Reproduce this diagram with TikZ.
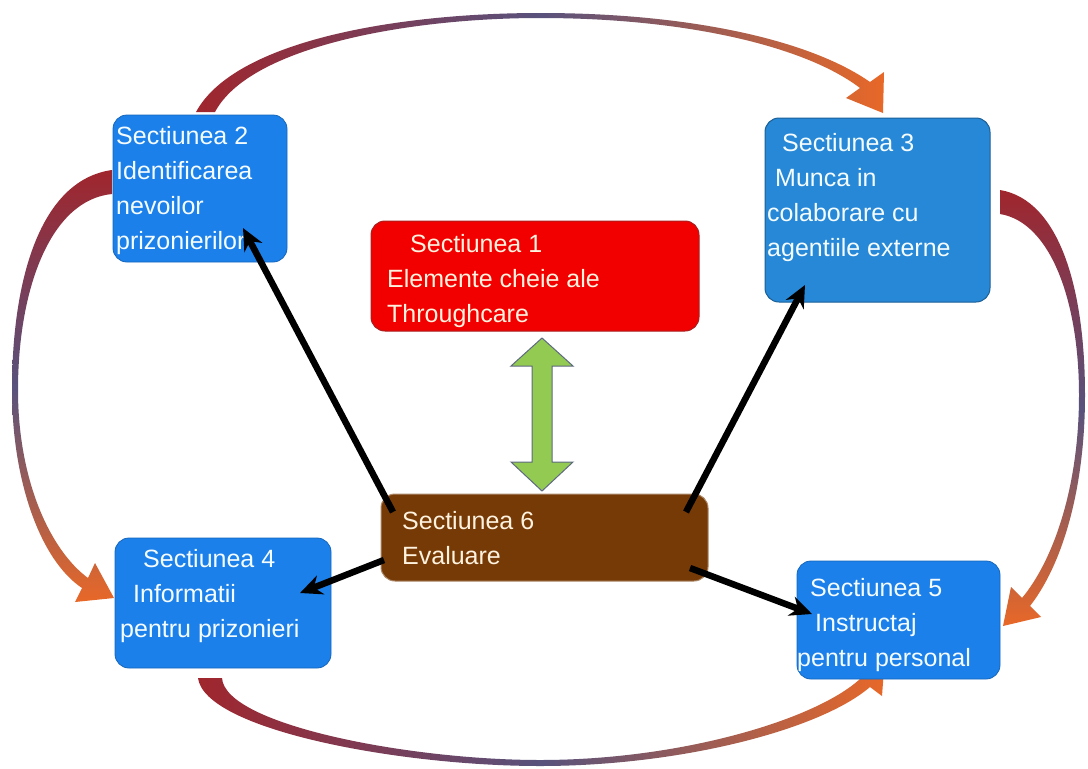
\documentclass[tikz,border=0pt]{standalone}
\usepackage{fontspec}
\setmainfont{Liberation Sans}
\usetikzlibrary{arrows.meta}
\definecolor{boxblue}{RGB}{28,128,234}
\definecolor{boxblueB}{RGB}{38,136,214}
\definecolor{boxred}{RGB}{242,0,0}
\definecolor{boxredB}{RGB}{170,30,30}
\definecolor{boxbrown}{RGB}{118,58,6}
\definecolor{txtcream}{RGB}{255,242,222}
\definecolor{txtwhite}{RGB}{245,252,255}
\definecolor{arrred}{RGB}{160,38,45}
\definecolor{arrmid}{RGB}{88,82,125}
\definecolor{arrorange}{RGB}{232,104,40}
\definecolor{grnfill}{RGB}{146,202,82}
\definecolor{grnedge}{RGB}{95,105,130}
\begin{document}
\begin{tikzpicture}[x=1pt,y=-1pt,
  boxbase/.style={rounded corners=14pt, inner sep=0pt},
  bluebox/.style={boxbase, fill=boxblue, draw=boxblue!80!black, line width=0.8pt},
  bluebox3/.style={boxbase, fill=boxblueB, draw=boxblueB!70!black, line width=1pt},
  redbox/.style={boxbase, fill=boxred, draw=boxredB, line width=1pt},
  brownbox/.style={boxbase, fill=boxbrown, draw=boxbrown!60!white, line width=1pt},
  txt/.style={align=left, inner sep=0pt, anchor=north west, font=\fontsize{25}{35}\selectfont},
  blk/.style={line width=6.5pt, black, -{Stealth[length=22pt,width=20pt]}},
  hor/.style={left color=arrred, right color=arrorange, middle color=arrmid},
  ver/.style={top color=arrred, bottom color=arrorange, middle color=arrmid}]
\useasboundingbox[fill=white] (0,0) rectangle (1088,769);

% curved arrows
\path[hor] (196,112) .. controls (235,40) and (400,13) .. (540,13)
  .. controls (690,13) and (810,40) .. (870,82) -- (884,72) -- (883,113) -- (846,98) -- (860,88)
  .. controls (805,46) and (685,18) .. (540,18)
  .. controls (410,18) and (250,46) .. (215,112) -- cycle;
\path[ver] (112,170) .. controls (40,180) and (12,280) .. (12,390)
  .. controls (12,480) and (40,560) .. (82,588) -- (75,602) -- (114,598) -- (95,563) -- (88,578)
  .. controls (50,550) and (18,480) .. (18,390)
  .. controls (18,290) and (50,200) .. (112,194) -- cycle;
\path[ver] (1000,190) .. controls (1060,200) and (1085,290) .. (1085,395)
  .. controls (1085,490) and (1062,565) .. (1030,606) -- (1041,617) -- (1003,626) -- (1011,587) -- (1022,598)
  .. controls (1052,562) and (1079,490) .. (1079,395)
  .. controls (1079,300) and (1050,222) .. (1000,214) -- cycle;
\path[hor] (198,678) .. controls (205,730) and (400,766) .. (540,766)
  .. controls (680,766) and (820,730) .. (870,687) -- (882,696) -- (885,656) -- (848,670) -- (860,679)
  .. controls (815,720) and (680,760) .. (540,760)
  .. controls (410,760) and (225,725) .. (222,678) -- cycle;

% green double arrow
\draw[fill=grnfill, draw=grnedge, line width=1pt, line join=miter]
  (542,338) -- (573,366) -- (552,366) -- (552,462) -- (573,462) -- (542,491)
  -- (511,462) -- (532,462) -- (532,366) -- (511,366) -- cycle;

% boxes
\node[redbox, minimum width=328pt, minimum height=110pt] (b1) at (535,276) {};
\node[bluebox, minimum width=174pt, minimum height=147pt] (b2) at (200,188.5) {};
\node[bluebox3, minimum width=225pt, minimum height=184pt] (b3) at (877.5,210) {};
\node[bluebox, minimum width=216pt, minimum height=130pt] (b4) at (223,603) {};
\node[bluebox, minimum width=203pt, minimum height=118pt] (b5) at (898.5,620) {};
\node[brownbox, minimum width=327pt, minimum height=87pt] (b6) at (544.5,537.5) {};

% texts
\node[txt, text=txtcream] (t1) at (387,234) {\hspace*{23pt}Sectiunea 1\\Elemente cheie ale\\Throughcare};
\node[txt, text=txtwhite] (t2) at (116,126) {Sectiunea 2\\Identificarea\\nevoilor\\prizonierilor};
\node[txt, text=txtwhite] (t3) at (767,133) {\hspace*{15pt}Sectiunea 3\\\hspace*{8pt}Munca in\\colaborare cu\\agentiile externe};
\node[txt, text=txtwhite] (t4) at (120,549) {\hspace*{23pt}Sectiunea 4\\\hspace*{13pt}Informatii\\pentru prizonieri};
\node[txt, text=txtwhite] (t5) at (797,578) {\hspace*{13pt}Sectiunea 5\\\hspace*{18pt}Instructaj\\pentru personal};
\node[txt, text=txtcream] (t6) at (402,511) {Sectiunea 6\\Evaluare};

% black arrows
\coordinate (a1s) at (393,512);
\coordinate (a1e) at (243,228);
\coordinate (a2s) at (686,512);
\coordinate (a2e) at (805,285);
\coordinate (a3s) at (384,560);
\coordinate (a3e) at (300,593);
\coordinate (a4s) at (690,568);
\coordinate (a4e) at (812,614);
\draw[blk] (a1s) -- (a1e);
\draw[blk] (a2s) -- (a2e);
\draw[blk] (a3s) -- (a3e);
\draw[blk] (a4s) -- (a4e);
\end{tikzpicture}
\end{document}
